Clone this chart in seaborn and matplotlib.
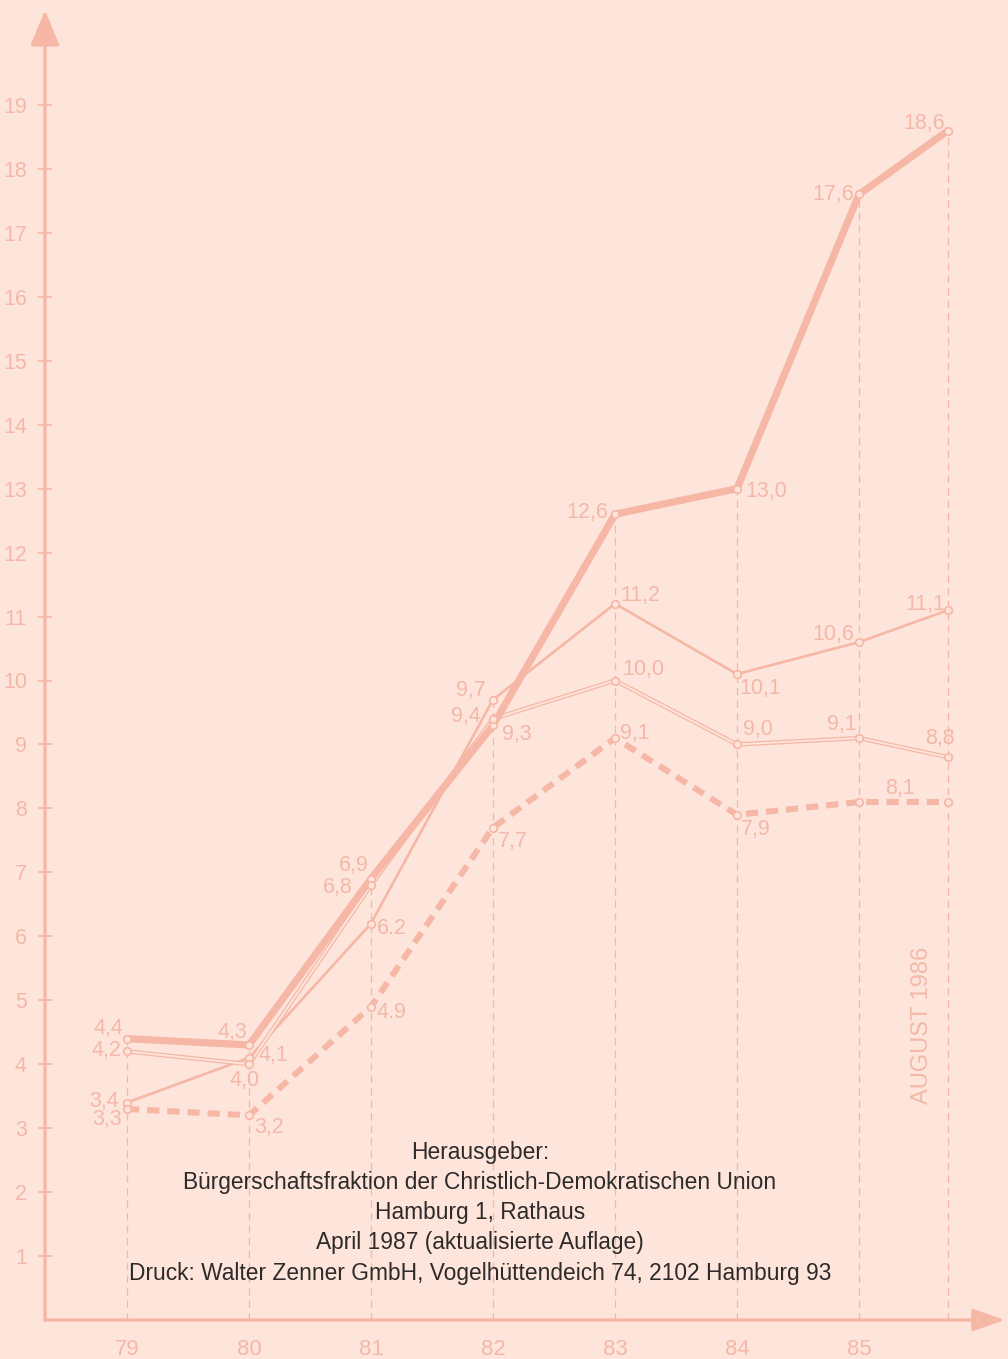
import numpy as np
import pandas as pd
import matplotlib
matplotlib.use("Agg")
import matplotlib.pyplot as plt
import matplotlib.patheffects as pe
import seaborn as sns

# ---------------- data ----------------
years = [79, 80, 81, 82, 83, 84, 85, 85.73]
tick_years = [79, 80, 81, 82, 83, 84, 85]
y_ticks = list(range(1, 20))

thick = [4.4, 4.3, 6.9, 9.3, 12.6, 13.0, 17.6, 18.6]
medium = [3.4, 4.1, 6.2, 9.7, 11.2, 10.1, 10.6, 11.1]
double = [4.2, 4.0, 6.8, 9.4, 10.0, 9.0, 9.1, 8.8]
dashed = [3.3, 3.2, 4.9, 7.7, 9.1, 7.9, 8.1, 8.1]

footer_lines = [
    "Herausgeber:",
    "Bürgerschaftsfraktion der Christlich-Demokratischen Union",
    "Hamburg 1, Rathaus",
    "April 1987 (aktualisierte Auflage)",
    "Druck: Walter Zenner GmbH, Vogelhüttendeich 74, 2102 Hamburg 93",
]
date_note = "AUGUST 1986"

# label offsets (pixels, from point to label centre); None = no label
thick_off = [(-19, 10), (-17, 13), (-17, 13), (24, -9), (-28, 2), (29, -3), (-26, 0), (-24, 7)]
medium_off = [(-23, 1), (24, 2), (21, -5), (-22, 9), (25, 8), (23, -14), (-26, 8), (-23, 6)]
double_off = [(-21, 1), (-5, -16), (-33, -2), (-27, 2), (28, 11), (21, 15), (-17, 14), (-8, 19)]
dashed_off = [(-20, -11), (20, -12), (20, -6), (20, -14), (20, 5), (19, -15), (41, 14), None]
period_labels = {("medium", 2), ("dashed", 2)}

# ---------------- style ----------------
BG = "#fde5db"
LINE = "#f6b7a6"
TXT = "#f4b8a9"
DARK = "#2e2a2a"

sns.set_theme(style="white", rc={"axes.facecolor": BG, "figure.facecolor": BG})
plt.rcParams["font.family"] = ["Liberation Sans", "DejaVu Sans"]

fig = plt.figure(figsize=(10.08, 13.59), dpi=100)
W, H = 1008, 1359
ax = fig.add_axes([45 / W, 39 / H, (1005 - 45) / W, (1320 - 10) / H])
ax.set_facecolor(BG)

px_per_year = 122.0
px_per_unit = 63.95
ax.set_xlim(79 - (127 - 45) / px_per_year, 79 + (1005 - 127) / px_per_year)
ax.set_ylim(0, (1320 - 10) / px_per_unit)

for s in ax.spines.values():
    s.set_visible(False)

# vertical dashed guide lines up to column maximum
col_max = np.max(np.array([thick, medium, double, dashed]), axis=0)
ax.vlines(years, 0, col_max, colors=LINE, linewidth=0.9,
          linestyles=(0, (6, 4)), zorder=1)

df = pd.DataFrame({"year": years, "thick": thick, "medium": medium,
                   "double": double, "dashed": dashed})

sns.lineplot(data=df, x="year", y="thick", ax=ax, color=LINE, lw=5.2,
             zorder=4, solid_joinstyle="miter")
sns.lineplot(data=df, x="year", y="medium", ax=ax, color=LINE, lw=1.9, zorder=3)
sns.lineplot(data=df, x="year", y="double", ax=ax, color=LINE, lw=3.2, zorder=3,
             path_effects=[pe.Stroke(linewidth=3.2, foreground=LINE),
                           pe.Stroke(linewidth=1.4, foreground=BG)])
sns.lineplot(data=df, x="year", y="dashed", ax=ax, color=LINE, lw=4.4,
             linestyle=(0, (2.0, 1.3)), zorder=3)

for name in ["thick", "medium", "double", "dashed"]:
    sns.scatterplot(data=df, x="year", y=name, ax=ax, s=30, marker="o",
                    facecolor=BG, edgecolor=LINE, linewidth=1.2, zorder=6)

offsets = {"thick": thick_off, "medium": medium_off,
           "double": double_off, "dashed": dashed_off}
for name, offs in offsets.items():
    for i, (x, v) in enumerate(zip(years, df[name])):
        off = offs[i]
        if off is None:
            continue
        lab = f"{v:.1f}"
        if (name, i) not in period_labels:
            lab = lab.replace(".", ",")
        ax.annotate(lab, (x, v), xytext=off, textcoords="offset pixels",
                    ha="center", va="center", fontsize=15.5, color=TXT, zorder=7)

# axes with arrows
ax.annotate("", xy=(0, 1), xytext=(0, 0), xycoords="axes fraction",
            arrowprops=dict(arrowstyle="-|>,head_length=1.1,head_width=0.45",
                            color=LINE, lw=2.4, mutation_scale=20,
                            shrinkA=0, shrinkB=0))
ax.annotate("", xy=(1, 0), xytext=(0, 0), xycoords="axes fraction",
            arrowprops=dict(arrowstyle="-|>,head_length=1.3,head_width=0.45",
                            color=LINE, lw=2.4, mutation_scale=15,
                            shrinkA=0, shrinkB=0))

ax.set_xticks(tick_years)
ax.set_xticklabels([str(y) for y in tick_years])
ax.set_yticks(y_ticks)
ax.set_yticklabels([str(y) for y in y_ticks])
ax.tick_params(axis="y", direction="inout", length=10, width=1.2, color=LINE,
               labelcolor=TXT, labelsize=15.5, pad=8, left=True)
ax.tick_params(axis="x", length=0, labelcolor=TXT, labelsize=16, pad=14)
ax.set_xlabel("")
ax.set_ylabel("")
ax.grid(False)

# rotated date note
ax.text(85.52, (1320 - 1025) / px_per_unit, date_note,
        rotation=90, ha="center", va="center", fontsize=17, color=TXT, zorder=2)

# publisher footer
for i, line in enumerate(footer_lines):
    fig.text(480 / W, 1 - (1152 + i * 30.3) / H, line, ha="center", va="center",
             fontsize=16.4, color=DARK)

fig.savefig("out.png", dpi=100, facecolor=BG)
